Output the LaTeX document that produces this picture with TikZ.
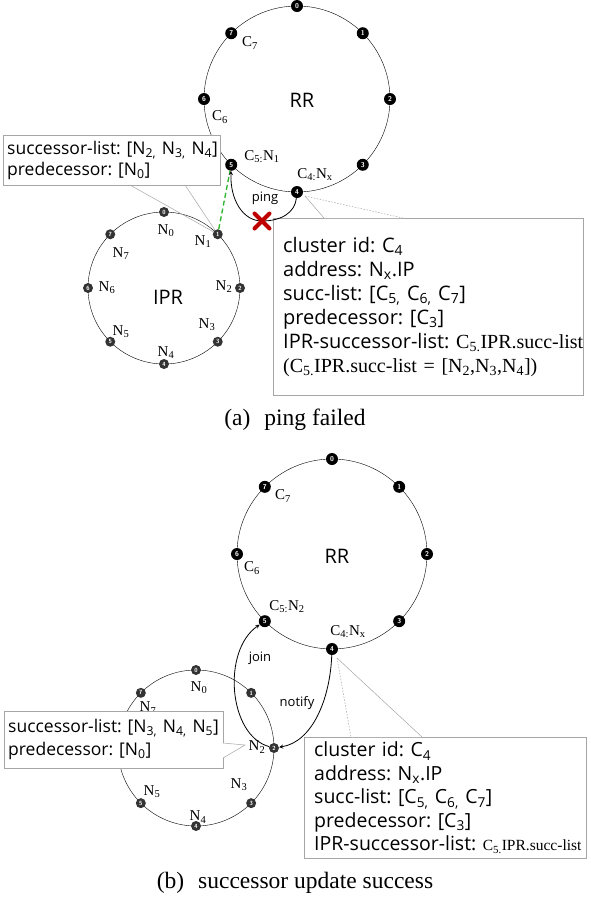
\documentclass[tikz,border=0pt]{standalone}
\usepackage{fontspec}
\setmainfont{Liberation Serif}
\newfontfamily\boxfont{Open Sans}
\usetikzlibrary{arrows, shapes.misc}
\newcommand\lsub[1]{\textsubscript{#1}}
\frenchspacing

\begin{document}
\begin{tikzpicture}[x=1pt, y=-1pt,
    rn/.style={circle, fill=black, text=white, inner sep=0pt, minimum size=12pt, font=\sffamily\bfseries\fontsize{7}{7}\selectfont},
    inode/.style={rn, fill=black!80, minimum size=10pt, font=\sffamily\bfseries\fontsize{6}{6}\selectfont},
    lbl/.style={font=\fontsize{15}{15}\selectfont, inner sep=0pt},
    big/.style={font=\boxfont\fontsize{20}{20}\selectfont},
    msg/.style={font=\boxfont\fontsize{13}{13}\selectfont, inner sep=0pt},
    box/.style={rectangle, draw=gray!70, fill=white, anchor=north west, align=left, inner ysep=0pt, font=\boxfont\fontsize{20}{24}\selectfont},
    ptr/.style={draw=gray!70, line width=0.5pt},
    arrow/.style={thick,->,>=stealth},
    fail/.style={cross out, draw=red!75!black, line width=4pt, line cap=round, minimum size=11pt, inner sep=0pt},
    caption/.style={font=\fontsize{23.5}{26}\selectfont}]
    \useasboundingbox (0,0) rectangle (590,906);
    % (a) ping failed
    \coordinate (rrA) at (297,99);
    \coordinate (iprA) at (164,288);
    \draw (rrA) circle[radius=93pt];
    \draw (iprA) circle[radius=76pt];
    \foreach \i in {0,...,7} \node[rn] (ra\i) at ([shift={({90-45*\i}:93pt)}]rrA) {\i};
    \foreach \i in {0,...,7} \node[inode] (ia\i) at ([shift={({90-45*\i}:76pt)}]iprA) {\i};
    \node[big] (rrlA) at (302,100) {RR};
    \node[big] (iprlA) at (168,297) {IPR};
    \node[lbl] at (250,43) {C\lsub{7}};
    \node[lbl] at (220,117) {C\lsub{6}};
    \node[lbl] at (262,157) {C\lsub{5:}N\lsub{1}};
    \node[lbl] at (315,175) {C\lsub{4:}N\lsub{x}};
    \node[lbl] at (166,231) {N\lsub{0}};
    \node[lbl] at (203,242) {N\lsub{1}};
    \node[lbl] at (224,287) {N\lsub{2}};
    \node[lbl] at (207,325) {N\lsub{3}};
    \node[lbl] at (166,353) {N\lsub{4}};
    \node[lbl] at (121,332) {N\lsub{5}};
    \node[lbl] at (107,288) {N\lsub{6}};
    \node[lbl] at (121,254) {N\lsub{7}};
    \node[box, text width=209pt, inner xsep=4pt, minimum width=217pt, minimum height=50pt, font=\boxfont\fontsize{17.5}{21}\selectfont] (succA) at (3,135)
        {\mbox{successor-list: [N\lsub{2,} N\lsub{3,} N\lsub{4}]}\\predecessor: [N\lsub{0}]};
    \node[box, text width=290pt, inner xsep=10pt, minimum width=310pt, minimum height=177pt] (infoA) at (273,218)
        {cluster id: C\lsub{4}\\address: N\lsub{x}.IP\\succ-list: [C\lsub{5,} C\lsub{6,} C\lsub{7}]\\predecessor: [C\lsub{3}]\\
         \mbox{IPR-successor-list: {\rmfamily C\lsub{5.}IPR.succ-list}}\\\mbox{\rmfamily (C\lsub{5.}IPR.succ-list = [N\lsub{2},N\lsub{3},N\lsub{4}])}};
    \coordinate (pa1) at (130,185); \coordinate (pa2) at (185,185);
    \draw[ptr] (pa1) -- (ia1) -- (pa2);
    \coordinate (ta) at (305,196); \coordinate (qa1) at (324,218); \coordinate (qa2) at (403,218);
    \fill[white] (qa1) -- (ta) -- (qa2) -- cycle;
    \draw[ptr] (qa1) -- (ta);
    \draw[ptr, dashed, dash pattern=on 1.5pt off 1.5pt] (ta) -- (qa2);
    \draw[green!65!black!80, line width=1.4pt, dash pattern=on 5pt off 3pt] (ia1) -- (ra5);
    \draw[arrow] (ra4) .. controls (295,212) and (282,221) .. (262,221) .. controls (243,221) and (230,200) .. (ra5);
    \node[fail] (x) at (262,221) {};
    \node[msg] (ping) at (265,198) {ping};
    \node[caption] (capA) at (295,420) {(a)\hspace{14pt}ping failed};
    % (b) successor update success
    \coordinate (rrB) at (332,554);
    \coordinate (iprB) at (196,748);
    \draw (rrB) circle[radius=95pt];
    \draw (iprB) circle[radius=78pt];
    \foreach \i in {0,...,7} \node[rn] (rb\i) at ([shift={({90-45*\i}:95pt)}]rrB) {\i};
    \foreach \i in {0,1,2,3,4,5,7} \node[inode] (ib\i) at ([shift={({90-45*\i}:78pt)}]iprB) {\i};
    \node[big] (rrlB) at (337,556) {RR};
    \node[lbl] at (283,496) {C\lsub{7}};
    \node[lbl] at (252,568) {C\lsub{6}};
    \node[lbl] at (287,607) {C\lsub{5:}N\lsub{2}};
    \node[lbl] at (348,632) {C\lsub{4:}N\lsub{x}};
    \node[lbl] at (199,688) {N\lsub{0}};
    \node[lbl] at (148,708) {N\lsub{7}};
    \node[lbl] at (257,747) {N\lsub{2}};
    \node[lbl] at (239,785) {N\lsub{3}};
    \node[lbl] at (198,817) {N\lsub{4}};
    \node[lbl] at (152,792) {N\lsub{5}};
    \node[box, text width=211pt, inner xsep=4pt, minimum width=219pt, minimum height=57pt, font=\boxfont\fontsize{17.5}{23}\selectfont] (succB) at (4,711)
        {\mbox{successor-list: [N\lsub{3,} N\lsub{4,} N\lsub{5}]}\\predecessor: [N\lsub{0}]};
    \node[box, text width=262pt, inner xsep=10pt, minimum width=282pt, minimum height=121pt, font=\boxfont\fontsize{19.5}{23.5}\selectfont] (infoB) at (304,737)
        {cluster id: C\lsub{4}\\address: N\lsub{x}.IP\\succ-list: [C\lsub{5,} C\lsub{6,} C\lsub{7}]\\predecessor: [C\lsub{3}]\\
         \mbox{IPR-successor-list: {\rmfamily\fontsize{15.5}{23.5}\selectfont C\lsub{5.}IPR.succ-list}}};
    \coordinate (tb) at (245,745); \coordinate (pb1) at (223,743); \coordinate (pb2) at (223,758);
    \fill[white] (pb1) -- (tb) -- (pb2) -- cycle;
    \draw[ptr] (pb1) -- (tb) -- (pb2);
    \coordinate (tc) at (337,658); \coordinate (qb1) at (351,737); \coordinate (qb2) at (422,737);
    \fill[white] (qb1) -- (tc) -- (qb2) -- cycle;
    \draw[ptr, dashed, dash pattern=on 1.5pt off 1.5pt] (tc) -- (qb1);
    \draw[ptr] (tc) -- (qb2);
    \draw[arrow] (ib2) .. controls (228,735) and (222,650) .. (rb5);
    \draw[arrow] (rb4) .. controls (330,700) and (312,742) .. (ib2);
    \node[msg] (join) at (260,658) {join};
    \node[msg] (notify) at (297,703) {notify};
    \node[caption] (capB) at (295,883) {(b)\hspace{14pt}successor update success};
\end{tikzpicture}
\end{document}
